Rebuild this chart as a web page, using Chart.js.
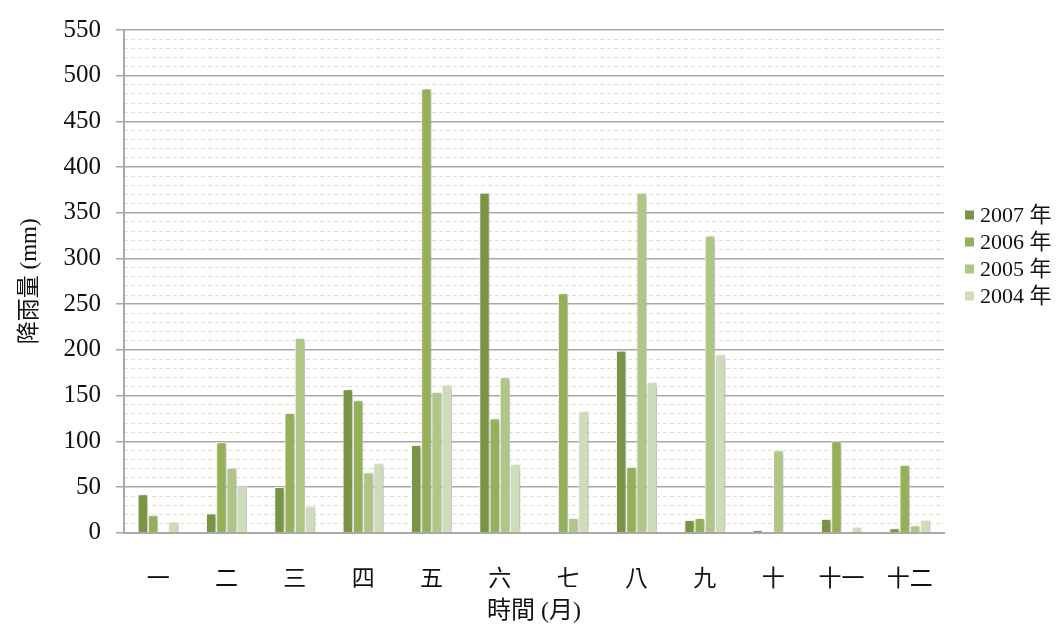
<!DOCTYPE html>
<html>
<head>
<meta charset="utf-8">
<script src="https://cdn.jsdelivr.net/npm/chart.js@4/dist/chart.umd.min.js"></script>
<style>
  html, body { margin: 0; padding: 0; background: #ffffff; }
  canvas { display: block; }
</style>
</head>
<body>
<canvas id="rainChart" width="1059" height="634"></canvas>
<script>
// Monthly rainfall (mm), four years side by side
const months = ['一', '二', '三', '四', '五', '六', '七', '八', '九', '十', '十一', '十二'];
const seriesLabels = ['2007 年', '2006 年', '2005 年', '2004 年'];
const rain2007 = [42, 21, 50, 157, 96, 372, 0, 199, 14, 3, 15, 5];
const rain2006 = [19, 99, 131, 145, 486, 125, 262, 72, 16, 0, 100, 74];
const rain2005 = [0, 71, 213, 66, 154, 170, 16, 372, 325, 90, 0, 8];
const rain2004 = [12, 52, 29, 76, 162, 75, 133, 165, 195, 0, 6, 14];
const yMax = 550;
const yMajorStep = 50;
const yMinorStep = 10;

const seriesColors = ['#7a9446', '#94b158', '#afc687', '#cedcb8'];
const serif = '"Liberation Serif", "Noto Sans CJK TC", serif';
const cjk = '"Noto Sans CJK TC", "Liberation Serif", serif';
const inkColor = '#111111';
const majorGrid = '#a8a8a8';
const minorGrid = '#e4dec6';

const seriesData = [rain2007, rain2006, rain2005, rain2004];

// soft drop shadow behind every bar
const barShadow = {
  id: 'barShadow',
  beforeDatasetsDraw(chart) {
    const ctx = chart.ctx;
    ctx.save();
    ctx.shadowColor = 'rgba(0,0,0,0.32)';
    ctx.shadowBlur = 5;
    ctx.shadowOffsetX = 2;
    ctx.shadowOffsetY = 1;
  },
  afterDatasetsDraw(chart) {
    chart.ctx.restore();
  }
};

// legend stacked on the right-hand side
const sideLegend = {
  id: 'sideLegend',
  afterDraw(chart) {
    const ctx = chart.ctx;
    ctx.save();
    ctx.font = '22px ' + serif;
    ctx.textBaseline = 'middle';
    ctx.textAlign = 'left';
    chart.data.datasets.forEach((ds, i) => {
      const y = 215 + i * 27;
      ctx.fillStyle = ds.backgroundColor;
      ctx.fillRect(965, y - 4.5, 9, 9);
      ctx.fillStyle = inkColor;
      ctx.fillText(ds.label, 980, y + 1);
    });
    ctx.restore();
  }
};

new Chart(document.getElementById('rainChart'), {
  type: 'bar',
  data: {
    labels: months,
    datasets: seriesLabels.map((label, i) => ({
      label: label,
      data: seriesData[i],
      backgroundColor: seriesColors[i],
      borderColor: '#ffffff',
      borderWidth: 1,
      yAxisID: 'y',
      categoryPercentage: 0.6,
      barPercentage: 1.0
    }))
  },
  options: {
    responsive: false,
    animation: false,
    devicePixelRatio: 1,
    layout: { padding: { top: 19, right: 115, bottom: 0, left: 0 } },
    plugins: {
      legend: { display: false },
      tooltip: { enabled: false }
    },
    scales: {
      x: {
        grid: { display: false, drawTicks: false },
        border: { display: true, color: majorGrid, width: 2 },
        ticks: { padding: 31, color: inkColor, font: { family: cjk, size: 23 } },
        title: {
          display: true,
          text: '時間 (月)',
          color: inkColor,
          font: { family: serif, size: 24 },
          padding: { top: 0, bottom: 8 }
        },
        afterFit(scale) { scale.height = 101.3; }
      },
      yMinor: {
        position: 'left',
        min: 0,
        max: yMax,
        ticks: { stepSize: yMinorStep, display: false },
        grid: {
          drawTicks: false,
          lineWidth: 1,
          color: (c) => (c.tick && c.tick.value % yMajorStep === 0) ? 'rgba(0,0,0,0)' : minorGrid
        },
        border: { display: false, dash: [4, 3] },
        afterFit(scale) { scale.width = 0; }
      },
      y: {
        position: 'left',
        min: 0,
        max: yMax,
        ticks: { stepSize: yMajorStep, padding: 15, color: inkColor, font: { family: serif, size: 25 } },
        grid: { color: majorGrid, lineWidth: 1.5, tickLength: 8 },
        border: { display: true, color: majorGrid, width: 2 },
        title: {
          display: true,
          text: '降雨量 (mm)',
          color: inkColor,
          font: { family: serif, size: 23 },
          padding: { top: 16, bottom: 0 }
        },
        afterFit(scale) { scale.width = 124; }
      }
    }
  },
  plugins: [barShadow, sideLegend]
});
</script>
</body>
</html>
